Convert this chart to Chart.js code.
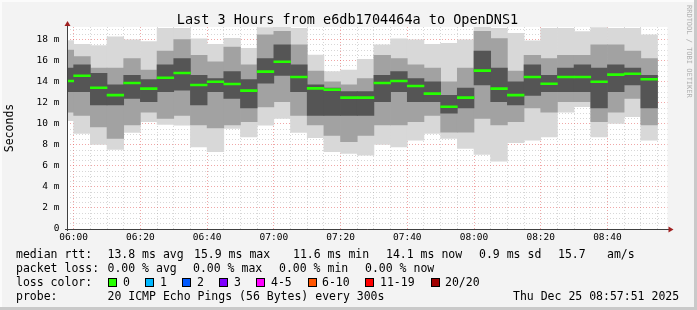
<!DOCTYPE html>
<html><head><meta charset="utf-8">
<script src="https://cdn.jsdelivr.net/npm/chart.js@4.4.1/dist/chart.umd.min.js"></script>
<style>
html,body{margin:0;padding:0;background:#f3f3f3;}
#wrap{position:relative;width:697px;height:310px;background:#f3f3f3;overflow:hidden;}
canvas{position:absolute;left:0;top:0;}
.t{position:absolute;font-family:"DejaVu Sans Mono",monospace;font-size:11.5px;color:#000;white-space:pre;line-height:14px;}
.box{position:absolute;width:7px;height:7px;border:1px solid #000;}
#edgeR{position:absolute;right:0;top:0;width:3px;height:310px;background:#c9c9c9;}
#edgeB{position:absolute;left:0;bottom:0;width:697px;height:3px;background:#c9c9c9;}
#edgeL{position:absolute;left:0;top:0;width:2px;height:310px;background:#fbfbfb;}
#edgeT{position:absolute;left:0;top:0;width:697px;height:2px;background:#fbfbfb;}
#rrd{position:absolute;left:684px;top:5px;writing-mode:vertical-rl;font-family:"DejaVu Sans Mono",monospace;font-size:7px;color:#b0b0b0;line-height:9px;}
</style></head>
<body>
<div id="wrap">
<canvas id="c" width="697" height="310" style="width:697px;height:310px"></canvas>
<div class="t" style="left:0;width:695px;top:11px;text-align:center;font-size:13.5px;line-height:16px;">Last 3 Hours from e6db1704464a to OpenDNS1</div>
<div id="rrd">RRDTOOL / TOBI OETIKER</div>

<div class="t" style="left:16px;top:247px">median rtt:</div>
<div class="t" style="left:107.5px;top:247px">13.8 ms avg</div>
<div class="t" style="left:194px;top:247px">15.9 ms max</div>
<div class="t" style="left:293px;top:247px">11.6 ms min</div>
<div class="t" style="left:386px;top:247px">14.1 ms now</div>
<div class="t" style="left:479px;top:247px">0.9 ms sd</div>
<div class="t" style="left:558px;top:247px">15.7</div>
<div class="t" style="left:607px;top:247px">am/s</div>

<div class="t" style="left:16px;top:261px">packet loss:</div>
<div class="t" style="left:107.5px;top:261px">0.00 % avg</div>
<div class="t" style="left:193px;top:261px">0.00 % max</div>
<div class="t" style="left:279px;top:261px">0.00 % min</div>
<div class="t" style="left:365px;top:261px">0.00 % now</div>

<div class="t" style="left:16px;top:275px">loss color:</div>
<div class="box" style="left:108px;top:278px;background:#26ff00"></div><div class="t" style="left:123px;top:275px">0</div>
<div class="box" style="left:145px;top:278px;background:#00b8ff"></div><div class="t" style="left:160px;top:275px">1</div>
<div class="box" style="left:182px;top:278px;background:#0059ff"></div><div class="t" style="left:197px;top:275px">2</div>
<div class="box" style="left:219px;top:278px;background:#7e00ff"></div><div class="t" style="left:234px;top:275px">3</div>
<div class="box" style="left:256px;top:278px;background:#ff00ff"></div><div class="t" style="left:271px;top:275px">4-5</div>
<div class="box" style="left:307.5px;top:278px;background:#ff5500"></div><div class="t" style="left:322px;top:275px">6-10</div>
<div class="box" style="left:365px;top:278px;background:#ff0000"></div><div class="t" style="left:380px;top:275px">11-19</div>
<div class="box" style="left:431px;top:278px;background:#a00000"></div><div class="t" style="left:445px;top:275px">20/20</div>

<div class="t" style="left:16px;top:289px">probe:</div>
<div class="t" style="left:107.5px;top:289px">20 ICMP Echo Pings (56 Bytes) every 300s</div>
<div class="t" style="left:513px;top:289px">Thu Dec 25 08:57:51 2025</div>

<div id="edgeL"></div><div id="edgeT"></div><div id="edgeR"></div><div id="edgeB"></div>
</div>
<script>
// ---- data (values in milliseconds) ----
const barStarts = ['05:55','06:00','06:05','06:10','06:15','06:20','06:25','06:30','06:35','06:40','06:45','06:50',
  '06:55','07:00','07:05','07:10','07:15','07:20','07:25','07:30','07:35','07:40','07:45','07:50',
  '07:55','08:00','08:05','08:10','08:15','08:20','08:25','08:30','08:35','08:40','08:45','08:50'];
const medianMs = [14.07,14.57,13.43,12.73,13.88,13.34,14.38,14.83,13.69,14.00,13.78,13.15,
  14.96,15.90,14.45,13.37,13.24,12.48,12.48,13.88,14.07,13.59,12.86,11.62,
  12.48,15.05,13.34,12.73,14.45,13.81,14.45,14.45,14.00,14.67,14.76,14.23];
const pingMin = [10.3,9.08,8.04,7.56,9.18,10.19,9.94,9.88,7.81,7.34,9.56,8.76,
  9.88,10.5,9.18,8.67,7.34,7.18,7.02,8.04,7.81,8.45,9.08,8.61,
  7.65,7.08,6.45,8.2,8.45,8.76,11.1,11.62,8.76,10.03,10.67,8.45];
const pingMax = [17.9,17.56,17.43,18.26,17.97,17.81,19.08,19.08,18.07,17.56,18.13,17.18,
  19.15,19.3,19.08,16.54,14.96,15.11,16.13,17.5,18.07,17.97,17.56,17.65,
  17.97,19.3,19.08,18.6,17.88,19.08,19.08,18.77,19.15,19.08,19.08,18.45];
const midLow = [11.1,10.8,9.7,8.6,9.9,11.1,10.5,10.8,9.9,9.6,9.9,10.2,
  11.6,12.1,10.8,9.9,8.9,8.3,8.9,9.9,9.9,10.2,10.8,9.2,
  9.2,10.5,9.9,10.2,11.5,11.1,12.1,12.1,10.2,11.1,12.4,9.9];
const midHigh = [17.0,16.4,15.3,15.3,16.2,15.1,16.9,18.0,16.5,15.9,17.3,15.6,
  18.45,18.8,17.5,15.0,14.0,13.7,14.3,16.5,16.2,15.6,15.3,14.0,
  15.3,18.8,18.1,15.0,16.5,16.2,16.5,16.5,17.5,17.5,16.9,16.2];
const coreLow = [13.05,13.05,11.8,11.8,12.4,12.1,13.05,13.2,11.8,13.05,12.4,11.5,
  13.85,14.6,13.05,10.8,10.8,10.8,10.8,12.1,13.05,12.1,12.1,11.0,
  11.5,13.7,12.1,11.8,12.7,13.05,13.05,13.05,11.5,13.05,13.7,11.5];
const coreHigh = [15.3,15.6,14.8,13.7,14.6,14.2,15.6,16.2,14.6,14.3,14.96,14.2,
  16.2,17.5,15.6,13.7,13.4,13.05,13.05,14.6,14.96,14.3,14.0,12.7,
  13.4,16.9,15.3,14.0,15.6,14.6,15.3,15.6,15.3,15.6,15.3,14.6];
const xTickLabels = ['06:00','06:20','06:40','07:00','07:20','07:40','08:00','08:20','08:40'];
const yTickLabels = ['0','2 m','4 m','6 m','8 m','10 m','12 m','14 m','16 m','18 m'];

// ---- helpers ----
const toMin = s => { const [h, m] = s.split(':').map(Number); return (h - 6) * 60 + m; };
const centers = barStarts.map(s => toMin(s) + 2.5);
const range = (lo, hi) => centers.map((x, i) => ({x, y: [lo[i], hi[i]]}));
const majorX = xTickLabels.map(toMin);
const majorY = yTickLabels.map(l => parseFloat(l));
const medLo = medianMs.map(v => v - 0.095), medHi = medianMs.map(v => v + 0.095);

const minorXTicks = []; for (let v = 0; v <= 175; v += 5) minorXTicks.push(v);
const minorYTicks = []; for (let v = 0; v <= 19; v += 0.5) minorYTicks.push(v);

const RED = 'rgba(225,80,80,0.5)', GREY = 'rgba(150,150,150,0.38)';

const bgPlugin = {
  id: 'plotbg',
  beforeDraw(c) {
    const {ctx, chartArea: a} = c;
    ctx.save(); ctx.fillStyle = '#ffffff';
    ctx.fillRect(a.left, a.top, a.right - a.left, a.bottom - a.top);
    ctx.restore();
  }
};
const axesPlugin = {
  id: 'axes',
  afterDraw(c) {
    const {ctx, chartArea: a} = c;
    ctx.save();
    ctx.strokeStyle = '#404040'; ctx.lineWidth = 1;
    ctx.beginPath(); ctx.moveTo(a.left + 0.5, a.bottom + 2); ctx.lineTo(a.left + 0.5, a.top - 4); ctx.stroke();
    ctx.beginPath(); ctx.moveTo(a.left - 2, a.bottom + 0.5); ctx.lineTo(a.right + 3, a.bottom + 0.5); ctx.stroke();
    ctx.fillStyle = '#a02020';
    ctx.beginPath(); ctx.moveTo(a.left + 0.5, a.top - 6); ctx.lineTo(a.left - 2.5, a.top - 1); ctx.lineTo(a.left + 3.5, a.top - 1); ctx.closePath(); ctx.fill();
    ctx.beginPath(); ctx.moveTo(a.right + 6, a.bottom + 0.5); ctx.lineTo(a.right + 1, a.bottom - 2.5); ctx.lineTo(a.right + 1, a.bottom + 3.5); ctx.closePath(); ctx.fill();
    ctx.restore();
  }
};

const common = {grouped: false, barPercentage: 1, categoryPercentage: 1, borderWidth: 0};
new Chart(document.getElementById('c'), {
  type: 'bar',
  data: {
    datasets: [
      {...common, label: 'median rtt', data: range(medLo, medHi), backgroundColor: '#26ff00'},
      {...common, label: 'core', data: range(coreLow, coreHigh), backgroundColor: '#555555'},
      {...common, label: 'mid', data: range(midLow, midHigh), backgroundColor: '#a2a2a2'},
      {...common, label: 'smoke', data: range(pingMin, pingMax), backgroundColor: '#d8d8d8'}
    ]
  },
  options: {
    responsive: false, animation: false,
    layout: {padding: {left: 0, right: 29.5, top: 27, bottom: 65}},
    plugins: {legend: {display: false}, tooltip: {enabled: false}, title: {display: false}},
    scales: {
      x: {
        type: 'linear', min: -2, max: 178, offset: false, z: 1,
        afterBuildTicks: s => { s.ticks = minorXTicks.map(v => ({value: v})); },
        afterFit: s => { s.height = 16; },
        ticks: {
          autoSkip: false, maxRotation: 0, padding: 3, color: '#000',
          font: {family: 'DejaVu Sans Mono', size: 9.5},
          callback: v => { const i = majorX.indexOf(Math.round(v)); return i >= 0 ? xTickLabels[i] : ''; }
        },
        grid: {offset: false, drawTicks: false, lineWidth: 1,
          color: ctx => majorX.includes(Math.round(ctx.tick ? ctx.tick.value : -1)) ? RED : GREY},
        border: {display: false, dash: [1, 2]}
      },
      y: {
        type: 'linear', min: 0, max: 19.2, z: 1,
        afterBuildTicks: s => { s.ticks = minorYTicks.map(v => ({value: v})); },
        afterFit: s => { s.width = 67; },
        ticks: {
          autoSkip: false, padding: 7.5, color: '#000',
          font: {family: 'DejaVu Sans Mono', size: 9.5},
          callback: v => { const i = majorY.indexOf(v); return i >= 0 ? yTickLabels[i] : ''; }
        },
        grid: {drawTicks: false, lineWidth: 1,
          color: ctx => (ctx.tick && majorY.includes(ctx.tick.value)) ? RED : GREY},
        border: {display: false, dash: [1, 2]},
        title: {display: true, text: 'Seconds', color: '#000', padding: {top: 3, bottom: 0},
          font: {family: 'DejaVu Sans Mono', size: 11.5}}
      }
    }
  },
  plugins: [bgPlugin, axesPlugin]
});
</script>
</body></html>
